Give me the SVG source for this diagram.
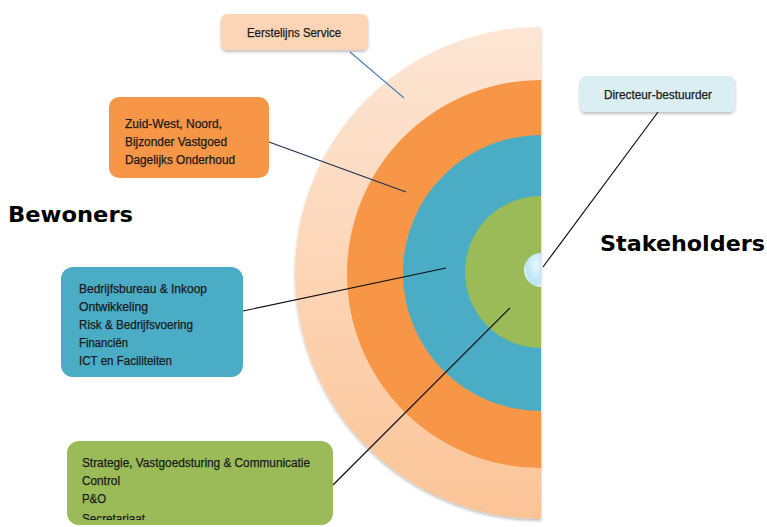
<svg xmlns="http://www.w3.org/2000/svg" width="767" height="527" viewBox="0 0 767 527">
<defs>
<linearGradient id="peach" x1="0" y1="0" x2="0" y2="1">
<stop offset="0" stop-color="#FDE6D5"/>
<stop offset="1" stop-color="#FBC497"/>
</linearGradient>
<radialGradient id="dot" cx="0.7" cy="0.35" r="0.8">
<stop offset="0" stop-color="#E6F6FC"/>
<stop offset="0.7" stop-color="#B9E4F5"/>
<stop offset="1" stop-color="#FFFFFF"/>
</radialGradient>
<filter id="sh" x="-10%" y="-10%" width="120%" height="130%">
<feDropShadow dx="0" dy="2" stdDeviation="1.5" flood-color="#000" flood-opacity="0.25"/>
</filter>
<clipPath id="pageclip"><rect x="0" y="0" width="767" height="520"/></clipPath>
</defs>
<style>
.t{font-family:"Liberation Sans",Arial,sans-serif;font-size:12px;fill:#1a1a1a;stroke:#1a1a1a;stroke-width:0.25;}
.big{font-family:"DejaVu Sans",Verdana,sans-serif;font-weight:bold;font-size:21px;fill:#000;}
.ln{fill:none;stroke-width:1.2;}
</style>
<g id="rings">
<path d="M541 27 A246 246 0 0 0 541 519 Z" fill="url(#peach)" filter="url(#sh)"/>
<path d="M541 80 A194 194 0 0 0 541 468 Z" fill="#F79646"/>
<path d="M541 135 A138 138 0 0 0 541 411 Z" fill="#4BACC6"/>
<path d="M541 196 A76 76 0 0 0 541 348 Z" fill="#9BBB59"/>
<path d="M541 253 A17 17 0 0 0 541 287 Z" fill="url(#dot)"/>
</g>
<g id="connectors">
<line class="ln" x1="350" y1="52" x2="404" y2="98" stroke="#4F81BD"/>
<line class="ln" x1="269" y1="142" x2="406" y2="192" stroke="#1F2F55"/>
<line class="ln" x1="243" y1="311" x2="446" y2="268" stroke="#111"/>
<line class="ln" x1="333" y1="485" x2="510" y2="308" stroke="#111"/>
<line class="ln" x1="658" y1="112" x2="543" y2="267" stroke="#111"/>
</g>
<g id="eerstelijns">
<rect x="221" y="14" width="147" height="36" rx="6" fill="#FBD5B5" filter="url(#sh)"/>
<text class="t" x="247" y="37" textLength="94" lengthAdjust="spacingAndGlyphs">Eerstelijns Service</text>
</g>
<g id="wijken">
<rect x="109" y="97" width="160" height="81" rx="10" fill="#F79646"/>
<text class="t" x="125" y="128" textLength="97" lengthAdjust="spacingAndGlyphs">Zuid-West, Noord,</text>
<text class="t" x="125" y="146" textLength="102" lengthAdjust="spacingAndGlyphs">Bijzonder Vastgoed</text>
<text class="t" x="125" y="164" textLength="110" lengthAdjust="spacingAndGlyphs">Dagelijks Onderhoud</text>
</g>
<g id="bewoners">
<text class="big" x="8" y="222" textLength="125" lengthAdjust="spacingAndGlyphs">Bewoners</text>
</g>
<g id="stakeholders">
<text class="big" x="600" y="251" textLength="165" lengthAdjust="spacingAndGlyphs">Stakeholders</text>
</g>
<g id="bedrijf">
<rect x="61" y="267" width="182" height="110" rx="12" fill="#4BACC6"/>
<text class="t" x="79" y="293" textLength="128" lengthAdjust="spacingAndGlyphs">Bedrijfsbureau &amp; Inkoop</text>
<text class="t" x="79" y="311" textLength="69" lengthAdjust="spacingAndGlyphs">Ontwikkeling</text>
<text class="t" x="79" y="329" textLength="114" lengthAdjust="spacingAndGlyphs">Risk &amp; Bedrijfsvoering</text>
<text class="t" x="79" y="347" textLength="49" lengthAdjust="spacingAndGlyphs">Financiën</text>
<text class="t" x="79" y="365" textLength="93" lengthAdjust="spacingAndGlyphs">ICT en Faciliteiten</text>
</g>
<g id="strategie">
<rect x="67" y="441" width="266" height="84" rx="12" fill="#9BBB59"/>
<g clip-path="url(#pageclip)">
<text class="t" x="82" y="467" textLength="228" lengthAdjust="spacingAndGlyphs">Strategie, Vastgoedsturing &amp; Communicatie</text>
<text class="t" x="82" y="485" textLength="38" lengthAdjust="spacingAndGlyphs">Control</text>
<text class="t" x="82" y="503" textLength="24" lengthAdjust="spacingAndGlyphs">P&amp;O</text>
<text class="t" x="82" y="523" textLength="63" lengthAdjust="spacingAndGlyphs">Secretariaat</text>
</g>
</g>
<g id="directeur">
<rect x="580" y="76" width="155" height="36" rx="6" fill="#DBEEF4" filter="url(#sh)"/>
<text class="t" x="604" y="99" textLength="108" lengthAdjust="spacingAndGlyphs">Directeur-bestuurder</text>
</g>
</svg>
